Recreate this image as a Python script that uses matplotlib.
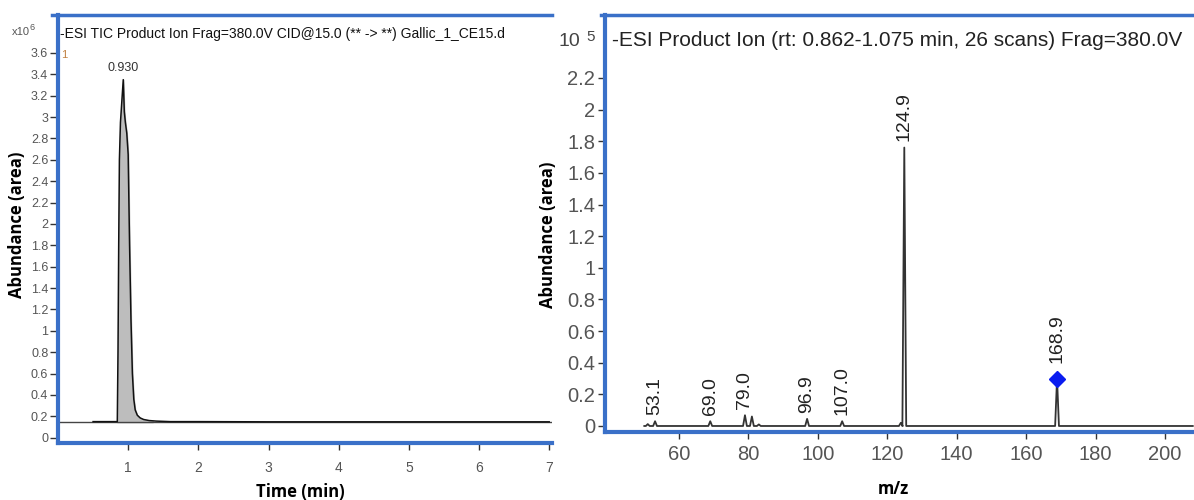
import matplotlib
matplotlib.use("Agg")
import matplotlib.pyplot as plt
import numpy as np

# ---------------- data ----------------
# Left: TIC chromatogram
tic_time = [0.50, 0.80, 0.845, 0.855, 0.865, 0.875, 0.89, 0.91, 0.93, 0.945, 0.96,
            0.98, 1.00, 1.02, 1.04, 1.06, 1.08, 1.10, 1.13, 1.17, 1.22, 1.30, 1.40,
            1.60, 2.00, 3.00, 4.00, 5.00, 6.00, 7.00]
tic_abund = [0.15, 0.15, 0.15, 0.80, 1.80, 2.60, 2.95, 3.15, 3.35, 3.05, 2.95,
             2.85, 2.65, 1.80, 1.10, 0.60, 0.36, 0.26, 0.21, 0.185, 0.17, 0.16, 0.155,
             0.15, 0.15, 0.148, 0.148, 0.148, 0.148, 0.148]
tic_baseline = 0.145
integ_start, integ_end = 0.845, 1.35
tic_peak_rt = 0.930
tic_peak_label = "0.930"
tic_xticks = [1, 2, 3, 4, 5, 6, 7]
tic_yticks = [0, 0.2, 0.4, 0.6, 0.8, 1, 1.2, 1.4, 1.6, 1.8, 2, 2.2, 2.4, 2.6,
              2.8, 3, 3.2, 3.4, 3.6]
tic_title = "-ESI TIC Product Ion Frag=380.0V CID@15.0 (** -> **) Gallic_1_CE15.d"

# Right: product ion spectrum
ms_mz = [51.0, 53.1, 69.0, 79.0, 81.0, 83.0, 96.9, 107.0, 123.9, 124.9, 168.9]
ms_abund = [0.012, 0.03, 0.03, 0.068, 0.06, 0.01, 0.045, 0.03, 0.02, 1.76, 0.30]
ms_labels = ["", "53.1", "69.0", "79.0", "", "", "96.9", "107.0", "", "124.9", "168.9"]
ms_precursor_mz = 168.9
ms_precursor_abund = 0.30
ms_range = (50.0, 208.0)
ms_xticks = [60, 80, 100, 120, 140, 160, 180, 200]
ms_yticks = [0, 0.2, 0.4, 0.6, 0.8, 1, 1.2, 1.4, 1.6, 1.8, 2, 2.2]
ms_title = "-ESI Product Ion (rt: 0.862-1.075 min, 26 scans) Frag=380.0V"

BLUE = "#3a70c8"
GRAY_TXT = "#555555"
W, H = 1194, 500


def fmt(v):
    s = f"{v:.1f}"
    return s[:-2] if s.endswith(".0") else s


fig = plt.figure(figsize=(W / 100, H / 100), dpi=100)
fig.patch.set_facecolor("white")

# ---------------- left panel ----------------
axL = fig.add_axes([58 / W, 57 / H, 494 / W, 428 / H])
axL.set_xlim(0, 7.04)
axL.set_ylim(-0.05, 3.955)
for s in axL.spines.values():
    s.set_visible(False)
# blue frame
axL.plot([0, 0], [-0.05, 3.955], color=BLUE, lw=3, clip_on=False, zorder=5)
axL.plot([0, 7.04], [-0.05, -0.05], color=BLUE, lw=3, clip_on=False, zorder=5)
axL.plot([-0.08, 7.04], [3.955, 3.955], color=BLUE, lw=2.5, clip_on=False, zorder=5)

t = np.array(tic_time)
a = np.array(tic_abund)
axL.axhline(tic_baseline, color="#444444", lw=1.0, zorder=2)
mask = (t >= integ_start) & (t <= integ_end)
ti = np.append(t[mask], integ_end)
ai = np.append(a[mask], np.interp(integ_end, t, a))
axL.fill_between(ti, tic_baseline, ai, color="#bdbdbd", zorder=1)
axL.plot(t, a, color="#111111", lw=1.1, zorder=3)
axL.text(tic_peak_rt, max(tic_abund) + 0.05, tic_peak_label, ha="center", va="bottom",
         fontsize=9, color="#333333", family="Liberation Sans")
axL.text(0.05, 3.58, "1", fontsize=8, color="#c08040", family="Liberation Sans", va="center")

axL.set_xticks(tic_xticks)
axL.set_xticklabels([str(v) for v in tic_xticks])
axL.set_yticks(tic_yticks)
axL.set_yticklabels([fmt(v) for v in tic_yticks])
axL.tick_params(axis="x", direction="out", length=5, width=1, color="#333333", pad=8,
                labelsize=10, labelcolor=GRAY_TXT)
axL.tick_params(axis="y", direction="out", length=6, width=1, color="#333333", pad=1,
                labelsize=9, labelcolor=GRAY_TXT)
for lab in axL.get_xticklabels() + axL.get_yticklabels():
    lab.set_family("Liberation Sans")
axL.text(0.005, 0.955, tic_title, transform=axL.transAxes, fontsize=10,
         family="Liberation Sans", va="center", ha="left", color="#111111")
fig.text(12 / W, 1 - 32 / H, "x10", fontsize=8, color=GRAY_TXT, family="Liberation Sans",
         va="center", ha="left")
fig.text(30 / W, 1 - 28 / H, "6", fontsize=6.5, color=GRAY_TXT, family="Liberation Sans",
         va="center", ha="left")
fig.text(17 / W, 1 - 225 / H, "Abundance (area)", rotation=90, fontsize=12,
         fontweight="bold", family="Open Sans", ha="center", va="center")
fig.text(300 / W, 1 - 492 / H, "Time (min)", fontsize=12, fontweight="bold",
         family="Open Sans", ha="center", va="center")

# ---------------- right panel ----------------
axR = fig.add_axes([605 / W, 68 / H, 589 / W, 417 / H])
x0 = 60 - (679 - 605) / 3.471
x1 = 200 + (1194 - 1165) / 3.471
axR.set_xlim(x0, x1)
axR.set_ylim(-0.038, 2.598)
for s in axR.spines.values():
    s.set_visible(False)
axR.plot([x0, x0], [-0.038, 2.598], color=BLUE, lw=3, clip_on=False, zorder=5)
axR.plot([x0, x1], [-0.038, -0.038], color=BLUE, lw=3, clip_on=False, zorder=5)
axR.plot([x0 - 1.2, x1], [2.598, 2.598], color=BLUE, lw=2.5, clip_on=False, zorder=5)

# profile trace built from centroid list (triangular peak shape)
half_w = 0.55
px = [ms_range[0]]
py = [0.0]
for m, h in zip(ms_mz, ms_abund):
    px += [m - half_w, m, m + half_w]
    py += [0.0, h, 0.0]
px.append(ms_range[1])
py.append(0.0)
axR.plot(px, py, color="#333333", lw=1.3, zorder=3)
axR.plot([ms_precursor_mz], [ms_precursor_abund], marker="D", color="#0a1cf0",
         markersize=8, zorder=4, linestyle="none")
for m, h, lab in zip(ms_mz, ms_abund, ms_labels):
    if not lab:
        continue
    yoff = 0.1 if m == ms_precursor_mz else 0.04
    axR.text(m, h + yoff, lab, rotation=90, ha="center", va="bottom", fontsize=14,
             family="Liberation Sans", color="#222222")

axR.set_xticks(ms_xticks)
axR.set_xticklabels([str(v) for v in ms_xticks])
axR.set_yticks(ms_yticks)
axR.set_yticklabels([fmt(v) for v in ms_yticks])
axR.tick_params(axis="x", direction="out", length=5, width=1, color="#333333", pad=4,
                labelsize=14.5, labelcolor=GRAY_TXT)
axR.tick_params(axis="y", direction="out", length=5, width=1, color="#333333", pad=2,
                labelsize=14.5, labelcolor=GRAY_TXT)
for lab in axR.get_xticklabels() + axR.get_yticklabels():
    lab.set_family("Liberation Sans")
axR.text(0.012, 0.94, ms_title, transform=axR.transAxes, fontsize=15,
         family="Liberation Sans", va="center", ha="left", color="#222222")
fig.text(558 / W, 1 - 42 / H, "10", fontsize=14, color="#444444", family="Liberation Sans",
         va="center", ha="left")
fig.text(586 / W, 1 - 37 / H, "5", fontsize=11, color="#444444", family="Liberation Sans",
         va="center", ha="left")
fig.text(548 / W, 1 - 235 / H, "Abundance (area)", rotation=90, fontsize=12,
         fontweight="bold", family="Open Sans", ha="center", va="center")
fig.text(893 / W, 1 - 489 / H, "m/z", fontsize=12, fontweight="bold",
         family="Open Sans", ha="center", va="center")

fig.savefig("out.png", dpi=100)
